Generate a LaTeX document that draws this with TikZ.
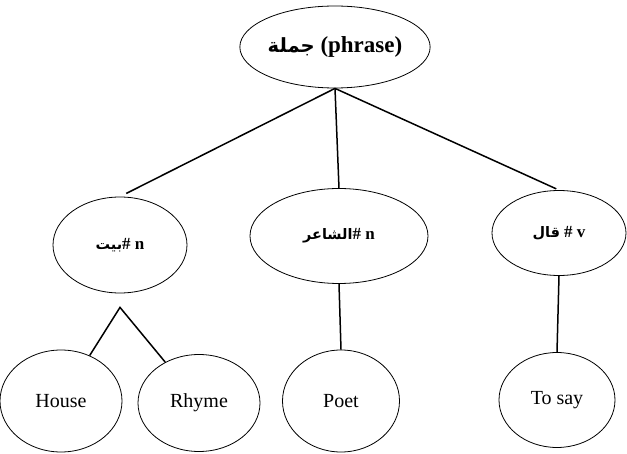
\documentclass[tikz,border=0pt]{standalone}
\usepackage{fontspec}
\setmainfont{Liberation Serif}
\newfontfamily\arabicfont[Script=Arabic,Scale=0.85]{DejaVu Sans}
\TeXXeTstate=1
\usetikzlibrary{shapes,positioning}
\newcommand{\arword}[1]{{\arabicfont\beginR #1\endR}}
\tikzset{
  basic/.style   = {draw, ellipse, inner sep=0pt, line width=0.8pt},
  root/.style    = {basic, minimum width=184pt, minimum height=82pt, font=\bfseries\fontsize{23}{27}\selectfont},
  level 2/.style = {basic, font=\bfseries\fontsize{17}{20}\selectfont},
  level 3/.style = {basic, font=\fontsize{20}{24}\selectfont},
  branch/.style  = {line width=1.5pt}
}

\begin{document}
\begin{tikzpicture}[x=1pt,y=1pt]
    \useasboundingbox (0,0) rectangle (627,453);

    % root of the tree
    \node[root] (root) at (335,406) {\arword{جملة} (phrase)};
    % the words, as children of the root
    \node[level 2, minimum width=134pt, minimum height=96pt] (bayt) at (120,208) {\arword{بيت}\# n};
    \node[level 2, minimum width=178pt, minimum height=95pt] (shaer) at (339,217) {\arword{الشاعر}\# n};
    \node[level 2, minimum width=134pt, minimum height=85pt] (qal) at (559,220) {\arword{قال} \# v};

    % the meanings
    \node[level 3, minimum width=122pt, minimum height=102pt] (house) at (61,52) {House};
    \node[level 3, minimum width=122pt, minimum height=97pt] (rhyme) at (199,50) {Rhyme};
    \node[level 3, minimum width=117pt, minimum height=102pt] (poet) at (341,52) {Poet};
    \node[level 3, minimum width=116pt, minimum height=95pt] (tosay) at (557,53) {To say};

    \foreach \kid/\gap in {bayt/7pt,shaer/0pt,qal/3pt}
      \draw[branch, shorten >=\gap] (root.south) -- (\kid.north);

    \coordinate (fork) at ([yshift=-14pt]bayt.south);
    \draw[branch] (house) -- (fork) -- (rhyme);
    \draw[branch] (shaer.south) -- (poet.north);
    \draw[branch] (qal.south) -- (tosay.north);
\end{tikzpicture}
\end{document}
